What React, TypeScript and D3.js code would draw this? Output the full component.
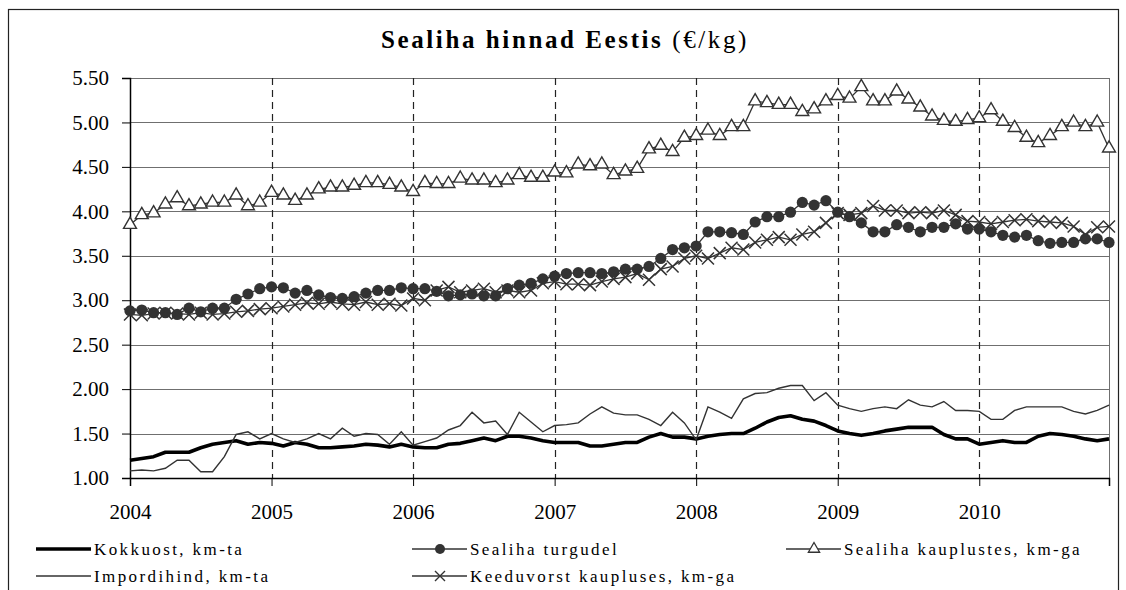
import { useEffect, useRef } from 'react'
import * as d3 from 'd3'

// monthly prices, Jan 2004 .. Dec 2010 (€/kg)
const years = ['2004', '2005', '2006', '2007', '2008', '2009', '2010']
const yTicks = [1.0, 1.5, 2.0, 2.5, 3.0, 3.5, 4.0, 4.5, 5.0, 5.5]

const kokkuost = [
  1.20, 1.22, 1.24, 1.29, 1.29, 1.29, 1.34, 1.38, 1.40, 1.42, 1.38, 1.40,
  1.39, 1.36, 1.40, 1.38, 1.34, 1.34, 1.35, 1.36, 1.38, 1.37, 1.35, 1.38,
  1.35, 1.34, 1.34, 1.38, 1.39, 1.42, 1.45, 1.42, 1.47, 1.47, 1.45, 1.42,
  1.40, 1.40, 1.40, 1.36, 1.36, 1.38, 1.40, 1.40, 1.46, 1.50, 1.46, 1.46,
  1.44, 1.47, 1.49, 1.50, 1.50, 1.56, 1.63, 1.68, 1.70, 1.66, 1.64, 1.59,
  1.53, 1.50, 1.48, 1.50, 1.53, 1.55, 1.57, 1.57, 1.57, 1.49, 1.44, 1.44,
  1.38, 1.40, 1.42, 1.40, 1.40, 1.47, 1.50, 1.49, 1.47, 1.44, 1.42, 1.44,
]
const impordihind = [
  1.08, 1.09, 1.08, 1.11, 1.20, 1.20, 1.07, 1.07, 1.24, 1.49, 1.52, 1.44,
  1.50, 1.44, 1.40, 1.44, 1.50, 1.44, 1.56, 1.47, 1.50, 1.49, 1.38, 1.52,
  1.37, 1.41, 1.45, 1.54, 1.59, 1.74, 1.62, 1.64, 1.49, 1.74, 1.63, 1.52,
  1.59, 1.60, 1.62, 1.72, 1.80, 1.73, 1.71, 1.71, 1.66, 1.59, 1.74, 1.62,
  1.43, 1.80, 1.74, 1.67, 1.89, 1.95, 1.96, 2.01, 2.04, 2.04, 1.87, 1.96,
  1.82, 1.78, 1.75, 1.78, 1.80, 1.78, 1.88, 1.82, 1.80, 1.86, 1.76, 1.76,
  1.75, 1.66, 1.66, 1.76, 1.80, 1.80, 1.80, 1.80, 1.75, 1.72, 1.76, 1.82,
]
const turgudel = [
  2.88, 2.89, 2.86, 2.86, 2.84, 2.91, 2.87, 2.91, 2.91, 3.01, 3.07, 3.13,
  3.15, 3.14, 3.08, 3.11, 3.06, 3.03, 3.02, 3.04, 3.08, 3.11, 3.11, 3.14,
  3.13, 3.13, 3.10, 3.05, 3.06, 3.07, 3.05, 3.05, 3.13, 3.17, 3.19, 3.24,
  3.27, 3.30, 3.31, 3.31, 3.30, 3.32, 3.35, 3.35, 3.38, 3.47, 3.57, 3.59,
  3.61, 3.77, 3.77, 3.76, 3.74, 3.88, 3.94, 3.94, 3.99, 4.10, 4.07, 4.12,
  3.99, 3.94, 3.87, 3.77, 3.77, 3.85, 3.82, 3.77, 3.82, 3.82, 3.86, 3.80,
  3.80, 3.77, 3.73, 3.71, 3.73, 3.67, 3.64, 3.65, 3.65, 3.69, 3.69, 3.65,
]
const kauplustes = [
  3.85, 3.96, 3.98, 4.08, 4.15, 4.06, 4.08, 4.10, 4.10, 4.18, 4.06, 4.10,
  4.21, 4.18, 4.12, 4.18, 4.25, 4.27, 4.27, 4.29, 4.32, 4.32, 4.30, 4.27,
  4.22, 4.32, 4.31, 4.31, 4.37, 4.35, 4.35, 4.32, 4.35, 4.41, 4.38, 4.38,
  4.44, 4.43, 4.53, 4.51, 4.53, 4.41, 4.45, 4.48, 4.70, 4.74, 4.67, 4.83,
  4.85, 4.91, 4.85, 4.95, 4.95, 5.24, 5.22, 5.20, 5.20, 5.12, 5.15, 5.24,
  5.30, 5.27, 5.40, 5.24, 5.24, 5.35, 5.26, 5.17, 5.07, 5.02, 5.01, 5.03,
  5.05, 5.14, 5.01, 4.94, 4.83, 4.77, 4.85, 4.95, 5.00, 4.95, 5.00, 4.71,
]
const keeduvorst = [
  2.84, 2.83, 2.85, 2.86, 2.85, 2.84, 2.86, 2.84, 2.85, 2.87, 2.88, 2.90,
  2.91, 2.93, 2.95, 2.97, 2.96, 2.98, 2.96, 2.95, 2.98, 2.95, 2.96, 2.94,
  3.02, 3.00, 3.11, 3.15, 3.09, 3.11, 3.13, 3.09, 3.11, 3.09, 3.11, 3.19,
  3.21, 3.18, 3.18, 3.17, 3.21, 3.24, 3.26, 3.30, 3.23, 3.35, 3.38, 3.47,
  3.50, 3.47, 3.53, 3.59, 3.57, 3.65, 3.68, 3.71, 3.68, 3.74, 3.77, 3.87,
  3.98, 3.96, 3.98, 4.06, 4.01, 4.01, 3.98, 3.99, 3.98, 4.01, 3.96, 3.89,
  3.88, 3.86, 3.88, 3.90, 3.91, 3.89, 3.88, 3.87, 3.83, 3.74, 3.82, 3.83,
]

const legendNames = [
  'Kokkuost, km-ta',
  'Sealiha turgudel',
  'Sealiha kauplustes, km-ga',
  'Impordihind, km-ta',
  'Keeduvorst kaupluses, km-ga',
]

const FONT = "'Liberation Serif', 'Times New Roman', serif"
const INK = '#333333'

export default function App() {
  const rootRef = useRef<SVGSVGElement>(null)

  useEffect(() => {
    const svg = d3.select(rootRef.current)
    svg.selectAll('*').remove()

    const left = 130, right = 1109, top = 78, bottom = 478
    const x = d3.scaleLinear().domain([0, kokkuost.length - 1]).range([left, right])
    const y = d3.scaleLinear().domain([1, 5.5]).range([bottom, top])

    // outer frame
    svg.append('rect')
      .attr('x', 8.5).attr('y', 9.5).attr('width', 1110).attr('height', 640)
      .attr('fill', 'white').attr('stroke', '#222').attr('stroke-width', 1.2)

    // title
    const title = svg.append('text')
      .attr('x', 565).attr('y', 48).attr('text-anchor', 'middle')
      .style('font-family', FONT).style('font-size', '25px').style('letter-spacing', '2.6px')
      .attr('fill', '#000')
    title.append('tspan').style('font-weight', 'bold').text('Sealiha hinnad Eestis ')
    title.append('tspan').text('(€/kg)')

    // horizontal grid
    svg.append('g').selectAll('line').data(yTicks.slice(1)).join('line')
      .attr('x1', left).attr('x2', right)
      .attr('y1', (d) => Math.round(y(d)) + 0.5).attr('y2', (d) => Math.round(y(d)) + 0.5)
      .attr('stroke', '#6f6f6f').attr('stroke-width', 1)

    // year dashed lines
    svg.append('g').selectAll('line').data(years.slice(1)).join('line')
      .attr('x1', (_, i) => Math.round(x((i + 1) * 12)) + 0.5)
      .attr('x2', (_, i) => Math.round(x((i + 1) * 12)) + 0.5)
      .attr('y1', top).attr('y2', bottom)
      .attr('stroke', '#222').attr('stroke-width', 1.2).attr('stroke-dasharray', '7,5')

    // right border of plot
    svg.append('line').attr('x1', right + 0.5).attr('x2', right + 0.5).attr('y1', top).attr('y2', bottom)
      .attr('stroke', '#6f6f6f')

    // axes
    const yAxis = svg.append('g').attr('transform', `translate(${left},0)`)
      .call(d3.axisLeft(y).tickValues(yTicks).tickSize(8).tickPadding(13).tickFormat(d3.format('.2f')))
    const xAxis = svg.append('g').attr('transform', `translate(0,${bottom})`)
      .call(d3.axisBottom(x).tickValues(years.map((_, i) => i * 12)).tickSize(8).tickPadding(18)
        .tickFormat((_, i) => years[i]))
    for (const ax of [yAxis, xAxis]) {
      ax.select('.domain').attr('stroke', '#000').attr('stroke-width', 1.5)
      ax.selectAll('.tick line').attr('stroke', '#000')
      ax.selectAll('.tick text').style('font-family', FONT).style('font-size', '21px').attr('fill', '#000')
    }

    const line = d3.line<number>().x((_, i) => x(i)).y((d) => y(d))

    // Kokkuost - thick black
    svg.append('path').datum(kokkuost).attr('d', line)
      .attr('fill', 'none').attr('stroke', '#000').attr('stroke-width', 3.6).attr('stroke-linejoin', 'round')

    // Sealiha turgudel - circles
    svg.append('path').datum(turgudel).attr('d', line)
      .attr('fill', 'none').attr('stroke', INK).attr('stroke-width', 1.3)
    svg.append('g').selectAll('circle').data(turgudel).join('circle')
      .attr('cx', (_, i) => x(i)).attr('cy', (d) => y(d)).attr('r', 5.6).attr('fill', INK)

    // Sealiha kauplustes - open triangles
    const tri = d3.symbol().type(d3.symbolTriangle).size(72)
    svg.append('path').datum(kauplustes).attr('d', line)
      .attr('fill', 'none').attr('stroke', INK).attr('stroke-width', 1.3)
    svg.append('g').selectAll('path').data(kauplustes).join('path')
      .attr('d', tri).attr('transform', (d, i) => `translate(${x(i)},${y(d)})`)
      .attr('fill', 'white').attr('stroke', INK).attr('stroke-width', 1.4)

    // Impordihind - thin
    svg.append('path').datum(impordihind).attr('d', line)
      .attr('fill', 'none').attr('stroke', INK).attr('stroke-width', 1.4)

    // Keeduvorst - crosses
    const cross = 'M-6,-6L6,6M-6,6L6,-6'
    svg.append('path').datum(keeduvorst).attr('d', line)
      .attr('fill', 'none').attr('stroke', INK).attr('stroke-width', 1.3)
    svg.append('g').selectAll('path').data(keeduvorst).join('path')
      .attr('d', cross).attr('transform', (d, i) => `translate(${x(i)},${y(d)})`)
      .attr('fill', 'none').attr('stroke', INK).attr('stroke-width', 1.5)

    // legend
    const cols = [36, 412, 786]
    const rows = [549, 576]
    const lg = svg.append('g')
    legendNames.forEach((name, k) => {
      const cx = cols[k % 3], cy = rows[Math.floor(k / 3)]
      const g = lg.append('g').attr('transform', `translate(${cx},${cy})`)
      g.append('line').attr('x1', 0).attr('x2', 55).attr('y1', 0).attr('y2', 0)
        .attr('stroke', k === 0 ? '#000' : INK).attr('stroke-width', k === 0 ? 3.6 : 1.4)
      if (k === 1) g.append('circle').attr('cx', 28).attr('cy', 0).attr('r', 5).attr('fill', INK)
      if (k === 2) g.append('path').attr('d', d3.symbol().type(d3.symbolTriangle).size(55)).attr('transform', 'translate(28,0)')
        .attr('fill', 'white').attr('stroke', INK).attr('stroke-width', 1.3)
      if (k === 4) g.append('path').attr('d', 'M-5,-5L5,5M-5,5L5,-5').attr('transform', 'translate(28,0)')
        .attr('stroke', INK).attr('stroke-width', 1.4)
      g.append('text').attr('x', 58).attr('y', 0).attr('dy', '0.35em')
        .style('font-family', FONT).style('font-size', '17px').style('letter-spacing', '2.4px')
        .attr('fill', '#000').text(name)
    })
  }, [])

  return (
    <svg ref={rootRef} width={1126} height={590} style={{ position: 'absolute', left: 0, top: 0, background: 'white' }} />
  )
}
